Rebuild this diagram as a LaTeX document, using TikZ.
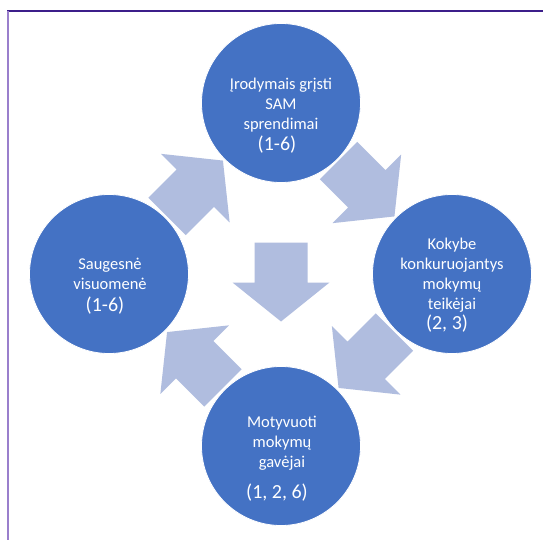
\documentclass[tikz,border=0pt]{standalone}
\usepackage{fontspec}
\setmainfont{Carlito}
\usetikzlibrary{calc}
\definecolor{circblue}{HTML}{4472C4}
\definecolor{arrowblue}{HTML}{B0BDDF}
\definecolor{topline}{HTML}{3C1E8A}
\definecolor{leftline}{HTML}{9A7FCC}
\tikzset{
  bubble/.style={circle, fill=circblue, draw=white, line width=0.8pt, minimum size=159pt, inner sep=0pt},
  txt/.style={text=white, align=center, font=\fontsize{16.5}{20}\selectfont, inner sep=0pt},
  blockarrow/.style={fill=arrowblue, draw=none},
}
\newcommand{\numfont}{\fontsize{20}{20}\selectfont}
\newcommand{\blockarr}[2]{%
  \fill[blockarrow, shift={#1}, rotate=#2]
    (-26.5,-39.5) -- (26.5,-39.5) -- (26.5,0.5) -- (48.5,0.5) -- (0,39.5)
    -- (-48.5,0.5) -- (-26.5,0.5) -- cycle;}
\begin{document}
\begin{tikzpicture}[x=1pt,y=-1pt]
\useasboundingbox (0,0) rectangle (543,540);
\fill[white] (0,0) rectangle (543,540);
\draw[topline, line width=1.2pt] (7,11) -- (543,11);
\draw[leftline, line width=2pt] (7.5,11) -- (7.5,540);

\node[bubble] (T) at (281,103) {};
\node[bubble] (R) at (452,274) {};
\node[bubble] (B) at (281,446) {};
\node[bubble] (L) at (109,274) {};
\coordinate (C) at (281,282);

\blockarr{($(L)!0.5!(T)$)}{135}
\blockarr{($(T)!0.5!(R)$)}{45}
\blockarr{($(R)!0.5!(B)$)}{-45}
\blockarr{($(B)!0.5!(L)$)}{-135}
\blockarr{(C)}{0}

\node[txt] (Tt) at (281,116) {Įrodymais grįsti\\SAM\\sprendimai\\[1pt]{\numfont\hspace*{-8pt}(1-6)}};
\node[txt] (Rt) at (452,285) {Kokybe\\konkuruojantys\\mokymų\\teikėjai\\{\numfont\hspace*{-10pt}(2, 3)}};
\node[txt] (Lt) at (110,286) {Saugesnė\\visuomenė\\[2pt]{\numfont\hspace*{-10pt}(1-6)}};
\node[txt] (Bt) at (282,459) {Motyvuoti\\mokymų\\gavėjai\\[11pt]{\numfont\hspace*{-10pt}(1, 2, 6)}};
\end{tikzpicture}
\end{document}
